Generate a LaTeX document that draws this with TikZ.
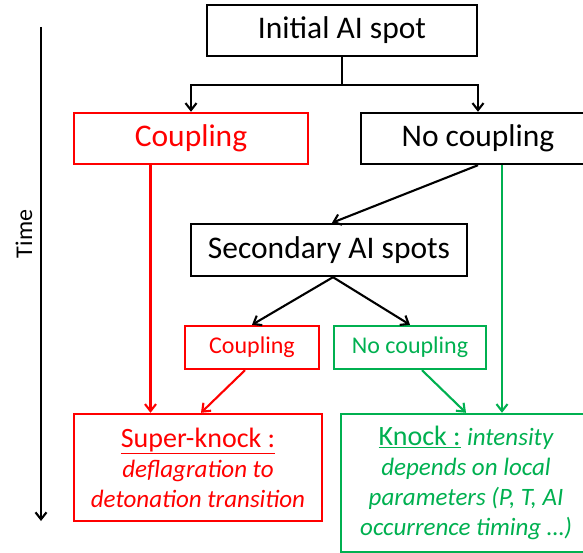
\documentclass[tikz,border=0pt]{standalone}
\usepackage{fontspec}
\setmainfont{Carlito}
\usetikzlibrary{arrows.meta, positioning, calc}

\definecolor{vert}{RGB}{0,176,80}

\begin{document}
\begin{tikzpicture}[x=1pt, y=-1pt,
    boite/.style={draw, line width=2.4pt, inner sep=0pt, align=center},
    grand/.style={font=\fontsize{31.5}{38}\selectfont},
    petit/.style={font=\fontsize{24}{29}\selectfont},
    moyen/.style={font=\fontsize{28}{30}\selectfont},
    rouge/.style={draw=red, text=red},
    verte/.style={draw=vert, text=vert},
    fleche/.style={line width=2.1pt, -{Straight Barb[length=7pt,width=11pt]}}]
    \useasboundingbox (0,0) rectangle (583,553);
    % Axe du temps (à gauche)
    \coordinate (tdebut) at (41,27);
    \coordinate (tfin) at (41,521);
    \draw[fleche] (tdebut) -- (tfin);
    \node[petit, rotate=90] (temps) at (24,234) {Time};
    % Premier niveau
    \node[boite, grand, minimum width=270pt, minimum height=51pt] (init) at (342,30.5) {Initial AI spot};
    \node[boite, grand, rouge, minimum width=234pt, minimum height=51pt] (coupA) at (191,138.5) {Coupling};
    \node[boite, grand, minimum width=234pt, minimum height=51pt] (nocoupA) at (478,138.5) {No coupling};
    % Deuxième niveau
    \node[boite, grand, minimum width=276pt, minimum height=52pt] (second) at (329,250) {Secondary AI spots};
    \node[boite, petit, rouge, minimum width=134pt, minimum height=43pt] (coupB) at (252,347.5) {Coupling};
    \node[boite, petit, verte, minimum width=152pt, minimum height=43pt] (nocoupB) at (410,347.5) {No coupling};
    % Résultats
    \node[boite, moyen, rouge, minimum width=248pt, minimum height=107pt] (sknock) at (198,467.5)
        {\underline{Super-knock :}\\
         {\itshape\fontsize{25}{30}\selectfont deflagration to}\\
         {\itshape\fontsize{25}{30}\selectfont detonation transition}};
    \node[boite, moyen, verte, minimum width=250pt, minimum height=138pt] (knock) at (466,483)
        {\underline{Knock :} {\itshape\fontsize{25}{30}\selectfont intensity}\\
         {\itshape\fontsize{25}{30}\selectfont depends on local}\\
         {\itshape\fontsize{25}{30}\selectfont parameters (P, T, AI}\\
         {\itshape\fontsize{25}{30}\selectfont occurrence timing …)}};
    % Flèches depuis le spot initial
    \coordinate (split) at (342,85);
    \draw[line width=2.1pt] (init.south) -- (split);
    \draw[fleche] (split) -| (coupA.north);
    \draw[fleche] (split) -| (nocoupA.north);
    % Flèches directes vers les résultats
    \draw[fleche, red] ([xshift=-40.5pt]coupA.south) -- ([xshift=-40.5pt]coupA.south |- sknock.north);
    \draw[fleche, vert] ([xshift=24pt]nocoupA.south) -- ([xshift=24pt]nocoupA.south |- knock.north);
    % Spots secondaires
    \draw[fleche] (nocoupA.south) -- ([xshift=3pt]second.north);
    \draw[fleche] ([xshift=4pt]second.south) -- (coupB.north);
    \draw[fleche] ([xshift=4pt]second.south) -- (nocoupB.north);
    \draw[fleche, red] ([xshift=-7pt]coupB.south) -- ([xshift=3pt]sknock.north);
    \draw[fleche, vert] ([xshift=12pt]nocoupB.south) -- (knock.north);
\end{tikzpicture}
\end{document}
